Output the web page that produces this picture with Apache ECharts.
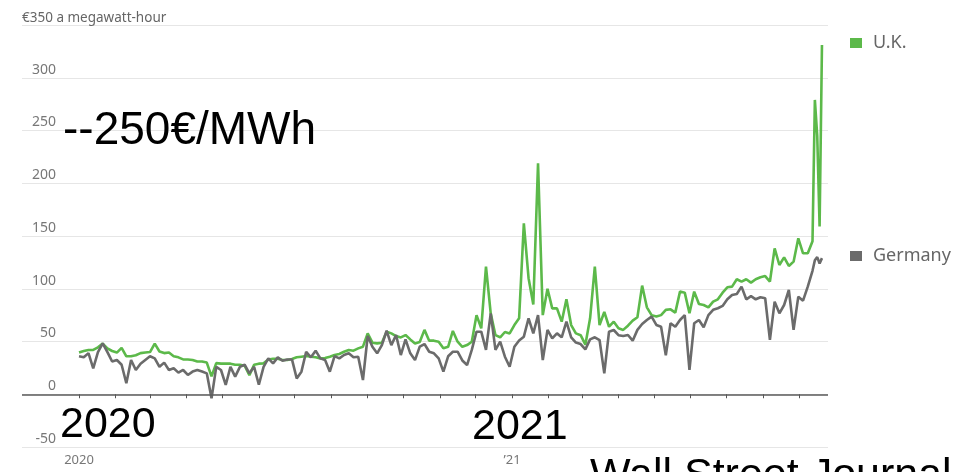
<!DOCTYPE html>
<html>
<head>
<meta charset="utf-8">
<script src="https://cdn.jsdelivr.net/npm/echarts/dist/echarts.min.js"></script>
<style>
  html, body { margin: 0; padding: 0; background: #fff; }
  #chart { width: 963px; height: 472px; }
</style>
</head>
<body>
<div id="chart"></div>
<script>
// ---- data ----
// day offsets from 2020-01-01 for each observation
const seriesStart = '2020-01-01';
const regularDays = Array.from({ length: 155 }, (_, i) => i * 4);
const tailDays = [620, 622, 624, 626, 628];
const dayOffsets = regularDays.concat(tailDays);

const ukPrices = [
  39.5, 41, 42, 42, 44.5, 48, 43.5, 41, 39.5, 44,
  36, 36, 37, 39, 39.5, 40, 48, 40.5, 39, 39.5,
  36, 35, 33, 33, 32.5, 31, 31, 30, 17, 29.5,
  29, 29, 29, 28, 28, 27, 18, 28, 29, 29.3,
  33, 33.7, 33.7, 32.4, 32.4, 33.4, 35, 35.6, 36.2, 35.6,
  35, 34, 34.3, 35.6, 37.2, 38.2, 40.3, 41.9, 41.3, 43.5,
  45.1, 57.7, 48.9, 48.2, 48.9, 59.3, 57.7, 55.2, 53.9, 56.1,
  52, 48.2, 49.5, 61, 50.8, 50.8, 49.8, 43.5, 45, 60,
  49.8, 45, 46.6, 49.8, 75, 62.5, 121, 76.7, 56, 54,
  59, 57.7, 65.6, 72, 162, 110, 85, 219, 75, 100,
  81.4, 81.4, 68.8, 90, 65.6, 57.7, 56, 47, 72, 121,
  65.6, 78, 64, 68.8, 62.5, 61, 65, 69.8, 73, 103,
  82.4, 75, 73.6, 75, 80, 80.5, 77.4, 97.3, 96.3, 76.7,
  97.3, 85.6, 84.6, 82.4, 87.8, 90, 96.3, 101.4, 102, 109,
  106.7, 109, 105.8, 109, 110.9, 112, 106.7, 138.3, 122.5, 129.8,
  121.6, 125.7, 147.8, 133.6, 133.6,
  145, 279, 245, 159, 331
];

const germanyPrices = [
  36, 35, 39, 24.6, 40, 48.3, 40, 31, 32.5, 28,
  10.4, 32.5, 23, 29, 32.5, 36, 34, 26, 30, 23,
  24.6, 20.5, 23, 18.3, 21.5, 23, 21.5, 19.8, -3.9, 26,
  23, 8.8, 26, 16.7, 26, 28, 19.8, 26, 9, 26,
  34, 29.3, 35, 31.8, 33, 33, 15, 21.4, 40.3, 35,
  41.3, 34, 32.4, 21.4, 36.2, 34, 37.2, 38.8, 35, 35.6,
  13.5, 55.2, 45.1, 38.8, 46.6, 60.2, 46.6, 56.1, 37.2, 52,
  38.8, 32.4, 45.1, 47.6, 40.3, 38.8, 34, 21.4, 36, 40.3,
  40.3, 32, 27.7, 42, 59.3, 59.3, 42, 76.7, 42, 49.8,
  35.6, 26, 45, 51, 54.6, 72, 57.7, 75, 32.4, 61,
  53, 57.7, 54, 68.8, 54, 49, 47.6, 42.5, 52, 54,
  51.4, 19.8, 59.3, 60.9, 56, 55.2, 56.2, 50.8, 61, 66.6,
  70.4, 73.6, 65.7, 64, 37, 67.3, 64, 70.4, 75, 23,
  67.3, 70.4, 63.5, 75, 80, 81.5, 83.7, 90, 94.1, 95,
  102, 90, 93, 90, 92, 91, 51.5, 87.8, 76.7, 84.6,
  98.8, 61, 92.5, 88.7, 102,
  117, 127, 130, 124, 129
];

const seriesNames = ['U.K.', 'Germany'];

const tickMonths = [
  '2020-01-01', '2020-02-01', '2020-03-01', '2020-04-01', '2020-05-01', '2020-06-01',
  '2020-07-01', '2020-08-01', '2020-09-01', '2020-10-01', '2020-11-01', '2020-12-01',
  '2021-01-01', '2021-02-01', '2021-03-01', '2021-04-01', '2021-05-01', '2021-06-01',
  '2021-07-01', '2021-08-01', '2021-09-01'
];
const xLabelDates = ['2020-01-01', '2021-01-01'];
const xLabelTexts = ['2020', '\u201921'];
const yTopLabel = '\u20ac350 a megawatt-hour';

const annotations = ['--250\u20ac/MWh', '2020', '2021', 'Wall Street Journal'];

// ---- build ----
const DAY = 86400000;
const t0 = Date.parse(seriesStart);
const ukData = dayOffsets.map((d, i) => [t0 + d * DAY, ukPrices[i]]);
const deData = dayOffsets.map((d, i) => [t0 + d * DAY, germanyPrices[i]]);
const tickValues = tickMonths.map(s => Date.parse(s));
const labelValues = xLabelDates.map(s => Date.parse(s));

const chart = echarts.init(document.getElementById('chart'), null, { renderer: 'canvas' });

const sans = 'Noto Sans';
const big = 'Liberation Sans';

const legendText = { fontFamily: sans, fontSize: 18, color: '#666', padding: [0, 0, 0, 6] };

chart.setOption({
  animation: false,
  backgroundColor: '#ffffff',
  grid: { left: 22, right: 135, top: 25, bottom: 25, containLabel: false },
  legend: [
    {
      data: [seriesNames[0]], left: 850, top: 34, padding: 0, icon: 'rect',
      itemWidth: 12, itemHeight: 10, selectedMode: false, textStyle: legendText
    },
    {
      data: [seriesNames[1]], left: 850, top: 247, padding: 0, icon: 'rect',
      itemWidth: 12, itemHeight: 10, selectedMode: false, textStyle: legendText
    }
  ],
  xAxis: {
    type: 'value',
    min: t0 - 48.2 * DAY,
    max: t0 + 633.1 * DAY,
    axisLine: { show: false },
    splitLine: { show: false },
    axisTick: {
      show: true, length: 4, customValues: tickValues,
      lineStyle: { color: '#555', width: 1 }
    },
    axisLabel: {
      customValues: labelValues,
      margin: 7,
      fontFamily: sans, fontSize: 13, color: '#777',
      formatter: function (v) {
        let best = -1, bd = Infinity;
        labelValues.forEach((lv, i) => { const d = Math.abs(lv - v); if (d < bd) { bd = d; best = i; } });
        return bd < DAY ? xLabelTexts[best] : '';
      }
    }
  },
  yAxis: {
    type: 'value',
    min: -50, max: 350, interval: 50,
    axisLine: { show: false },
    axisTick: { show: false },
    splitLine: { show: true, lineStyle: { color: '#e6e6e6', width: 1 } },
    axisLabel: {
      inside: true,
      margin: 0,
      align: 'left',
      verticalAlign: 'bottom',
      formatter: function (v) {
        if (v === 350) return '{t|' + yTopLabel + '}';
        return '{n|' + v + '}';
      },
      rich: {
        n: { width: 34, align: 'right', fontFamily: sans, fontSize: 14, color: '#777', lineHeight: 16 },
        t: { fontFamily: sans, fontSize: 13.5, color: '#666', lineHeight: 14 }
      }
    }
  },
  series: [
    {
      name: seriesNames[0], type: 'line', data: ukData,
      showSymbol: false, color: '#5cb94a',
      lineStyle: { width: 2.6, color: '#5cb94a' },
      markLine: {
        silent: true, symbol: 'none', label: { show: false },
        lineStyle: { color: '#5a5a5a', width: 1.5, type: 'solid' },
        data: [{ yAxis: 0 }]
      },
      z: 2
    },
    {
      name: seriesNames[1], type: 'line', data: deData,
      showSymbol: false, color: '#6b6b6b',
      lineStyle: { width: 2.6, color: '#6b6b6b' },
      z: 3
    }
  ],
  graphic: [
    { type: 'text', left: 63, top: 108, style: { text: annotations[0], fontFamily: big, fontSize: 46, fill: '#000' }, z: 100 },
    { type: 'text', left: 60, top: 404, style: { text: annotations[1], fontFamily: big, fontSize: 43, fill: '#000' }, z: 100 },
    { type: 'text', left: 472, top: 406, style: { text: annotations[2], fontFamily: big, fontSize: 43, fill: '#000' }, z: 100 },
    { type: 'text', left: 590, top: 455, style: { text: annotations[3], fontFamily: big, fontSize: 43, fill: '#000' }, z: 100 }
  ]
});
</script>
</body>
</html>
